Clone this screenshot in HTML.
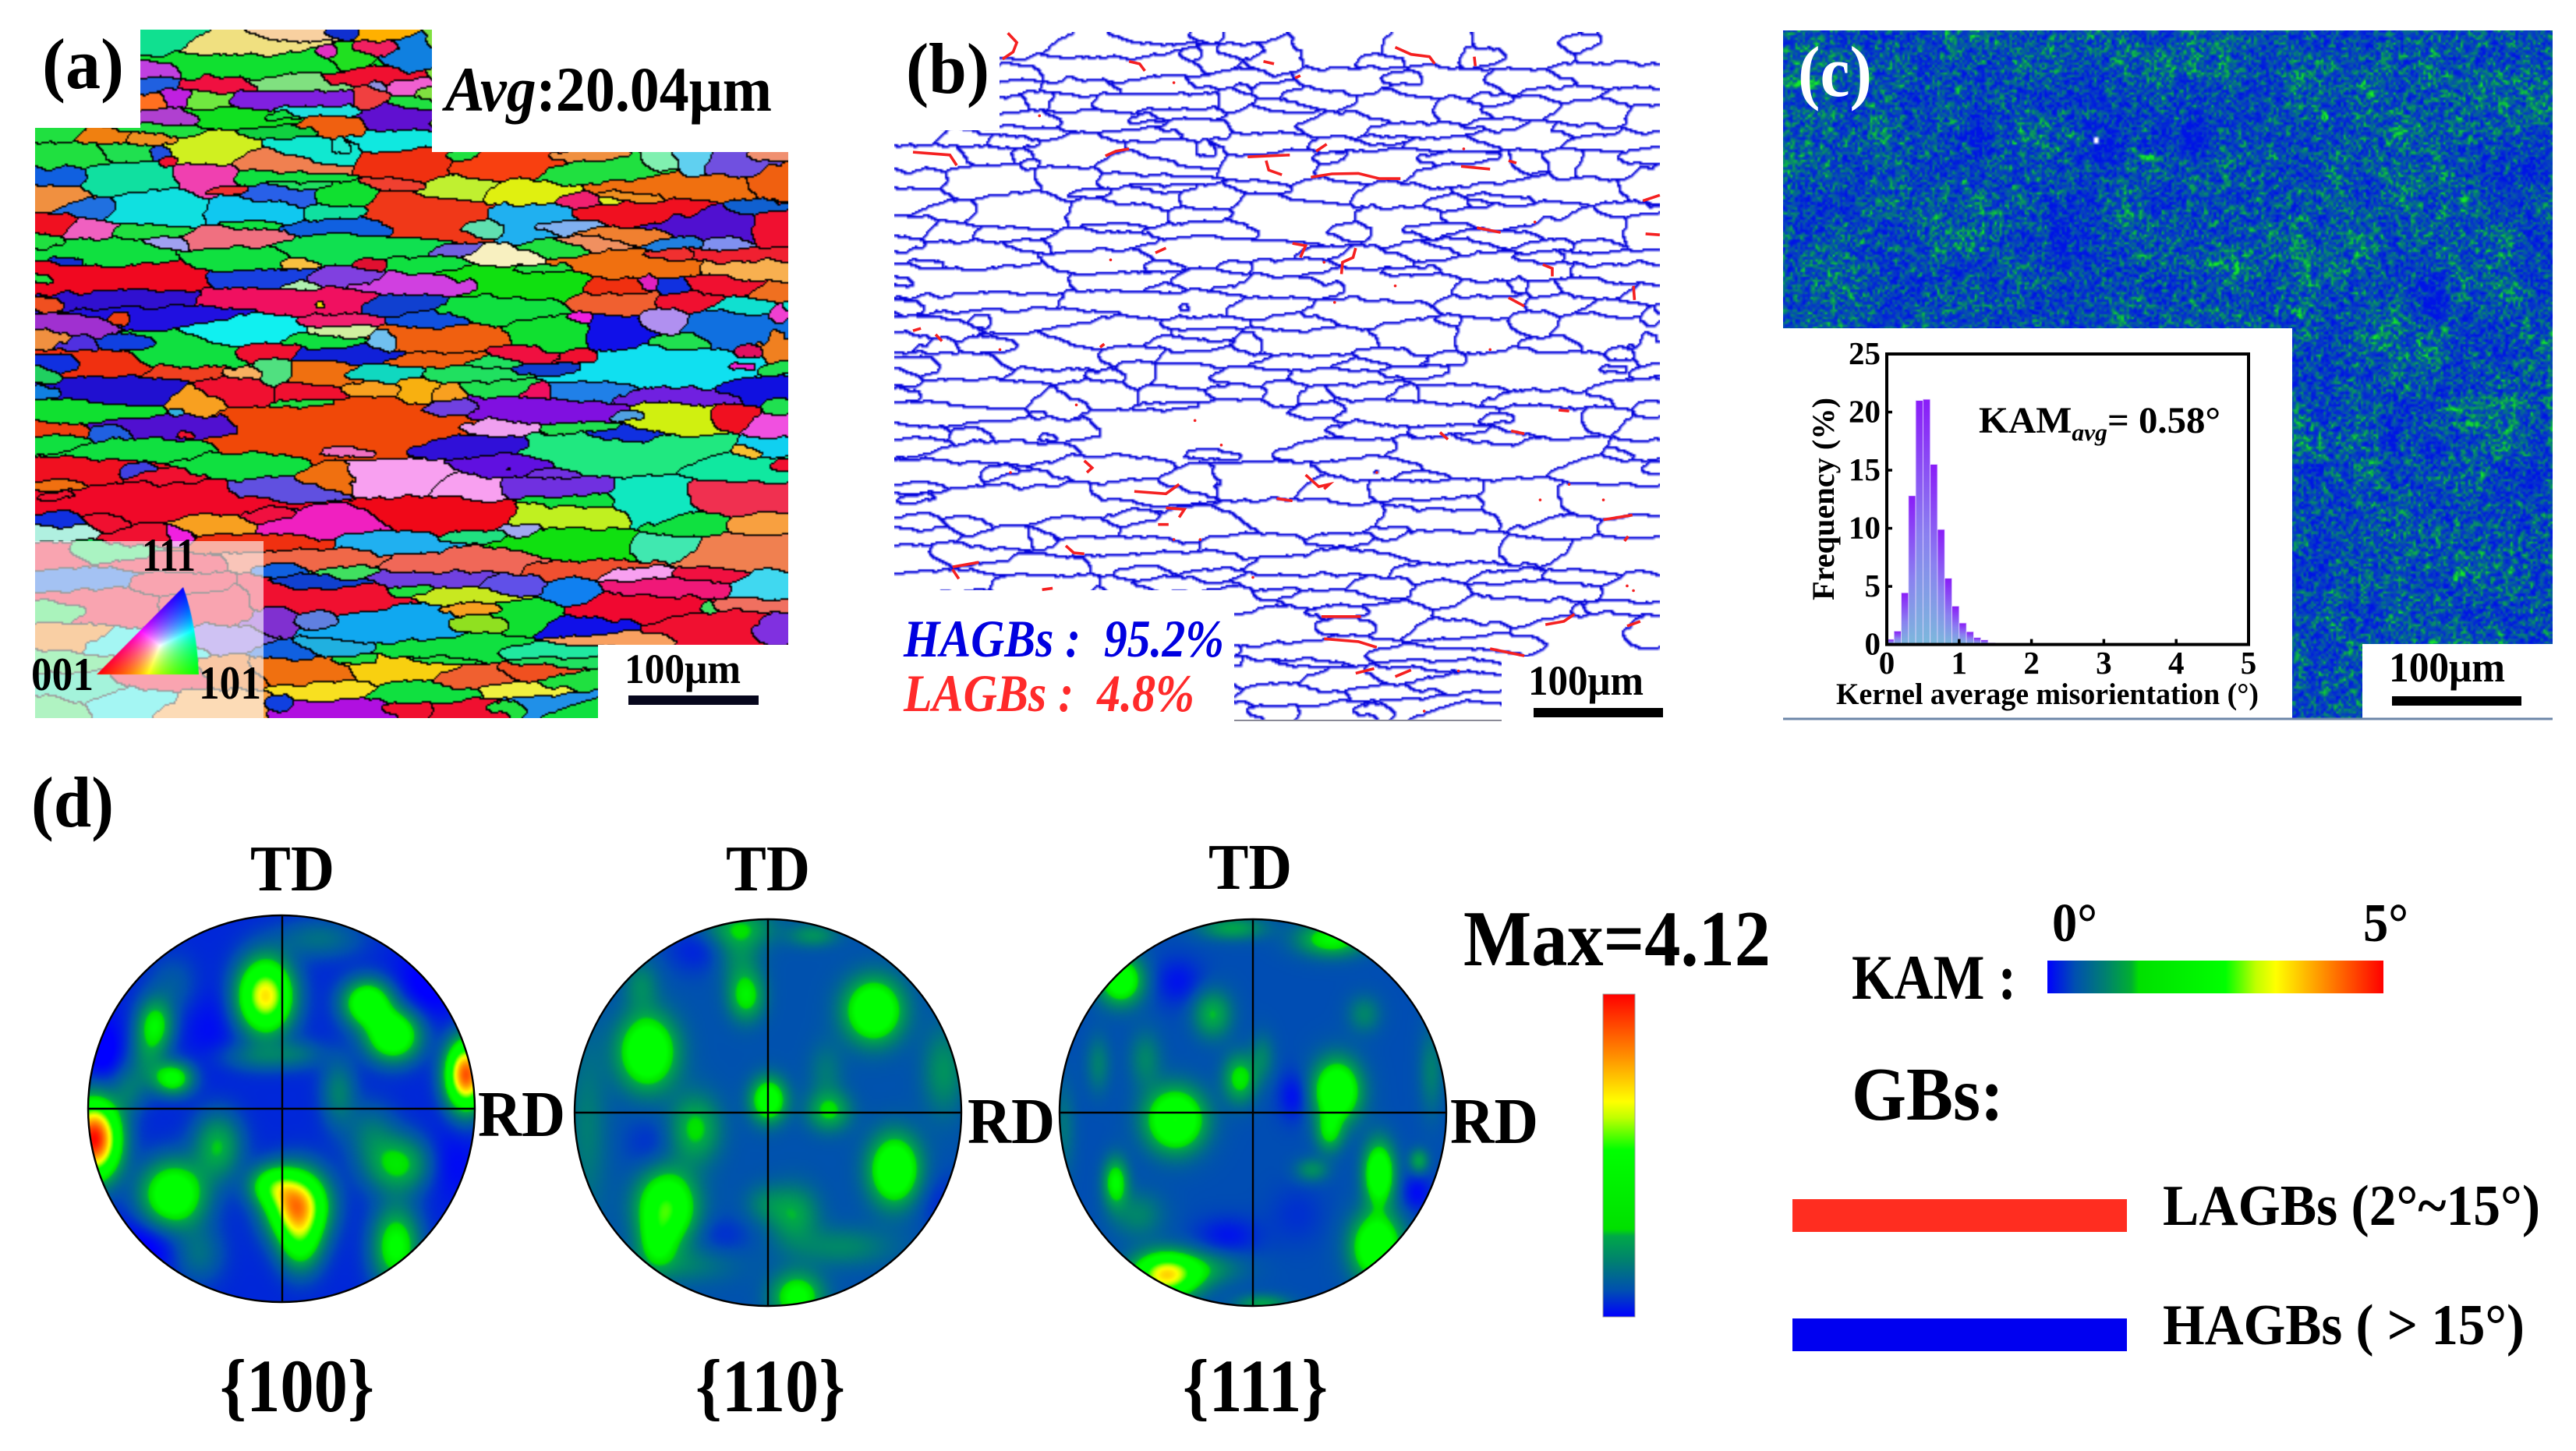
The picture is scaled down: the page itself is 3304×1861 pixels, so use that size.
<!DOCTYPE html>
<html lang="en">
<head>
<meta charset="utf-8">
<title>EBSD characterisation figure</title>
<style>
html,body{margin:0;padding:0;background:#fff}
#page{position:relative;width:3304px;height:1861px;overflow:hidden;background:#fff}
canvas{position:absolute;display:block}
#overlay{position:absolute;left:0;top:0}
text{font-family:"Liberation Serif","DejaVu Serif",serif;font-weight:bold;fill:#000}
</style>
</head>
<body>
<div id="page">
<canvas id="map-a" width="483" height="442" style="left:45px;top:38px;width:966px;height:883px;clip-path:polygon(135px 0,509px 0,509px 157px,966px 157px,966px 789px,722px 789px,722px 883px,0 883px,0 126px,135px 126px)"></canvas>
<canvas id="map-b" width="483" height="442" style="left:1147px;top:41px;width:982px;height:883px;clip-path:polygon(135px 0,982px 0,982px 801px,779px 801px,779px 883px,436px 883px,436px 716px,0 716px,0 126px,135px 126px)"></canvas>
<canvas id="map-c" width="494" height="441" style="left:2287px;top:39px;width:987px;height:882px"></canvas>
<canvas id="pole-100" width="248" height="248" style="left:113px;top:1174px;width:496px;height:496px;border-radius:50%"></canvas>
<canvas id="pole-110" width="248" height="248" style="left:737px;top:1179px;width:496px;height:496px;border-radius:50%"></canvas>
<canvas id="pole-111" width="248" height="248" style="left:1359px;top:1179px;width:496px;height:496px;border-radius:50%"></canvas>

<svg id="overlay" width="3304" height="1861" viewBox="0 0 3304 1861" xmlns="http://www.w3.org/2000/svg">
<defs>
<linearGradient id="bar-fill" x1="0" y1="0" x2="0" y2="1"><stop offset="0" stop-color="#8a1cf8"/><stop offset="0.55" stop-color="#8a80f0"/><stop offset="1" stop-color="#7cb8dc"/></linearGradient>
<linearGradient id="jet-v" x1="0" y1="1" x2="0" y2="0"><stop offset="0" stop-color="#0000ff"/><stop offset=".083" stop-color="#0050b0"/><stop offset=".172" stop-color="#008070"/><stop offset=".25" stop-color="#00a848"/><stop offset=".272" stop-color="#00e000"/><stop offset=".517" stop-color="#00ff00"/><stop offset=".617" stop-color="#c0ff00"/><stop offset=".667" stop-color="#ffff00"/><stop offset=".806" stop-color="#ff9000"/><stop offset="1" stop-color="#ff0000"/></linearGradient>
<linearGradient id="jet-h" x1="0" y1="0" x2="1" y2="0"><stop offset="0" stop-color="#0000ff"/><stop offset=".083" stop-color="#0050b0"/><stop offset=".172" stop-color="#008070"/><stop offset=".25" stop-color="#00b030"/><stop offset=".272" stop-color="#00e000"/><stop offset=".53" stop-color="#00ff00"/><stop offset=".62" stop-color="#c0ff00"/><stop offset=".68" stop-color="#ffff00"/><stop offset=".82" stop-color="#ff9000"/><stop offset="1" stop-color="#ff0000"/></linearGradient>
</defs>

<!-- panel a -->
<rect x="45" y="694" width="293" height="227" fill="#fff" fill-opacity=".62"/>
<text x="54" y="113" font-size="92" textLength="105" lengthAdjust="spacingAndGlyphs">(a)</text>
<text x="571" y="142" font-size="82" textLength="419" lengthAdjust="spacingAndGlyphs"><tspan font-style="italic">Avg</tspan>:20.04μm</text>
<text x="182" y="732" font-size="60" textLength="69" lengthAdjust="spacingAndGlyphs">111</text>
<text x="40" y="885" font-size="60" textLength="80" lengthAdjust="spacingAndGlyphs">001</text>
<text x="255" y="896" font-size="60" textLength="80" lengthAdjust="spacingAndGlyphs">101</text>
<text x="801" y="876" font-size="54" textLength="149" lengthAdjust="spacingAndGlyphs">100μm</text>
<rect x="806" y="892" width="167" height="12" fill="#06061c"/>

<!-- panel b -->
<g id="lagb-layer" fill="none" stroke="#f52020" stroke-width="3.6"></g>
<line x1="1583" y1="924" x2="1926" y2="924" stroke="#8a8a96" stroke-width="2"/>
<text x="1162" y="119" font-size="92" textLength="107" lengthAdjust="spacingAndGlyphs">(b)</text>
<text x="1159" y="842" font-size="68" font-style="italic" style="fill:#0000e0" textLength="411" lengthAdjust="spacingAndGlyphs">HAGBs :&#160;&#160;95.2%</text>
<text x="1159" y="912" font-size="68" font-style="italic" style="fill:#ff2a2a" textLength="373" lengthAdjust="spacingAndGlyphs">LAGBs :&#160;&#160;4.8%</text>
<text x="1960" y="891" font-size="54" textLength="148" lengthAdjust="spacingAndGlyphs">100μm</text>
<rect x="1967" y="908" width="166" height="12" fill="#000"/>

<!-- panel c -->
<rect x="2287" y="421" width="653" height="500" fill="#fff"/>
<rect x="3030" y="826" width="244" height="95" fill="#fff"/>
<line x1="2287" y1="922" x2="3274" y2="922" stroke="#6c86a8" stroke-width="3"/>
<text x="2306" y="123" font-size="92" style="fill:#fff" textLength="95" lengthAdjust="spacingAndGlyphs">(c)</text>
<text x="3064" y="874" font-size="54" textLength="149" lengthAdjust="spacingAndGlyphs">100μm</text>
<rect x="3068" y="893" width="166" height="12" fill="#000"/>

<g id="kam-histogram"></g>
<rect x="2420" y="454" width="464" height="372.6" fill="none" stroke="#000" stroke-width="4"/>
<text x="2538" y="555" font-size="48" textLength="310" lengthAdjust="spacingAndGlyphs">KAM<tspan font-size="31" font-style="italic" dy="10">avg</tspan><tspan dy="-10">= 0.58°</tspan></text>
<text x="2355" y="903" font-size="39" textLength="542" lengthAdjust="spacingAndGlyphs">Kernel average misorientation (°)</text>
<text transform="translate(2352 770) rotate(-90)" font-size="40" textLength="260" lengthAdjust="spacingAndGlyphs">Frequency (%)</text>

<!-- panel d -->
<text x="40" y="1060" font-size="92" textLength="106" lengthAdjust="spacingAndGlyphs">(d)</text>
<g id="pole-frames" fill="none" stroke="#000" stroke-width="2.4">
  <circle cx="361" cy="1422" r="248"/>
  <line x1="113" y1="1422" x2="609" y2="1422"/>
  <line x1="362" y1="1174" x2="362" y2="1670"/>
  <circle cx="985" cy="1427" r="248"/>
  <line x1="737" y1="1427" x2="1233" y2="1427"/>
  <line x1="985" y1="1179" x2="985" y2="1675"/>
  <circle cx="1607" cy="1427" r="248"/>
  <line x1="1359" y1="1427" x2="1855" y2="1427"/>
  <line x1="1607" y1="1179" x2="1607" y2="1675"/>
</g>
<text x="321" y="1142" font-size="84" textLength="108" lengthAdjust="spacingAndGlyphs">TD</text>
<text x="931" y="1142" font-size="84" textLength="108" lengthAdjust="spacingAndGlyphs">TD</text>
<text x="1550" y="1140" font-size="84" textLength="107" lengthAdjust="spacingAndGlyphs">TD</text>
<text x="613" y="1457" font-size="84" textLength="112" lengthAdjust="spacingAndGlyphs">RD</text>
<text x="1241" y="1466" font-size="84" textLength="112" lengthAdjust="spacingAndGlyphs">RD</text>
<text x="1860" y="1466" font-size="84" textLength="113" lengthAdjust="spacingAndGlyphs">RD</text>
<text x="282" y="1810" font-size="96" textLength="198" lengthAdjust="spacingAndGlyphs">{100}</text>
<text x="892" y="1810" font-size="96" textLength="192" lengthAdjust="spacingAndGlyphs">{110}</text>
<text x="1517" y="1810" font-size="96" textLength="186" lengthAdjust="spacingAndGlyphs">{111}</text>
<text x="1877" y="1238" font-size="102" textLength="394" lengthAdjust="spacingAndGlyphs">Max=4.12</text>
<rect x="2056" y="1275" width="41" height="414" fill="url(#jet-v)" stroke="#999" stroke-width="1"/>

<!-- legend -->
<text x="2375" y="1281" font-size="82" textLength="211" lengthAdjust="spacingAndGlyphs">KAM :</text>
<rect x="2626" y="1232" width="431" height="42" fill="url(#jet-h)"/>
<text x="2632" y="1207" font-size="70" textLength="58" lengthAdjust="spacingAndGlyphs">0°</text>
<text x="3031" y="1207" font-size="70" textLength="58" lengthAdjust="spacingAndGlyphs">5°</text>
<text x="2375" y="1436" font-size="98" textLength="195" lengthAdjust="spacingAndGlyphs">GBs:</text>
<rect x="2299" y="1538" width="429" height="42" fill="#ff2d20"/>
<text x="2774" y="1571" font-size="74" textLength="484" lengthAdjust="spacingAndGlyphs">LAGBs (2°~15°)</text>
<rect x="2299" y="1691" width="429" height="42" fill="#0000f0"/>
<text x="2774" y="1724" font-size="74" textLength="464" lengthAdjust="spacingAndGlyphs">HAGBs ( &gt; 15°)</text>
</svg>
<canvas id="ipf-triangle" width="140" height="120" style="left:120px;top:750px;width:140px;height:120px"></canvas>
</div>

<script>
/* KAM histogram data: bin start is index * kamBinWidth */
const kamBinWidth = 0.1;
const kamFrequency = [0.45, 1.15, 4.45, 12.8, 21.0, 21.1, 15.5, 9.9, 5.7, 3.3, 1.85, 1.1, 0.6, 0.4, 0.15];
const histXTicks = [0, 1, 2, 3, 4, 5];
const histYTicks = [0, 5, 10, 15, 20, 25];

/* Pole figure density blobs: centre x, centre y, spread x, spread y, level */
const pole100Blobs = [
 [345,430,30,72,.66],[505,450,27,45,.42],[545,540,30,50,.45],[172,510,20,52,.27],[200,660,22,32,.33],[160,600,20,60,.12],
 [130,690,20,50,.1],[660,650,22,66,.85],[76,830,28,76,.95],[270,850,27,66,.22],[200,985,36,66,.43],[395,1015,32,66,.74],
 [355,960,26,40,.3],[400,1120,24,60,.28],[555,900,38,58,.26],[550,1130,26,78,.33],[460,700,20,70,.13],[240,1150,28,58,.1],
 [340,600,48,30,.1],[400,590,28,30,.06],[430,270,48,40,.1],[510,810,28,60,.1],[200,400,28,60,.06],
 [90,590,24,80,-.06],[600,400,40,80,-.05],[160,1120,40,60,-.06],[620,900,40,70,-.05],[260,520,34,80,-.03]
];
const pole110Blobs = [
 [945,585,32,72,.42],[1300,470,32,62,.42],[975,1020,32,72,.45],[960,1120,20,50,.2],[1333,915,28,68,.42],[1135,720,20,44,.35],
 [1020,800,28,68,.2],[1230,750,24,40,.2],[1100,430,20,48,.23],[1090,240,38,38,.16],[1090,320,24,60,.1],[1180,1270,28,48,.3],
 [1175,1040,28,58,.16],[1130,1010,24,40,.08],[935,400,20,50,.1],[1410,640,24,88,.12],[1205,260,28,24,.12],[1250,1130,58,40,.1],
 [850,800,24,190,.08],[1000,1180,58,40,.08],[1225,640,20,58,.07],[1020,300,34,50,-.05],[950,850,30,60,-.04],[1060,1100,34,40,-.04],[1400,1000,30,60,-.04]
];
const pole111Blobs = [
 [215,385,32,48,.36],[650,695,34,62,.42],[325,775,42,62,.44],[455,660,24,48,.23],[400,480,28,48,.18],[265,605,24,58,.1],
 [705,480,24,38,.1],[635,810,20,40,.2],[735,925,22,62,.4],[600,915,24,24,.12],[815,890,14,24,.16],[205,950,18,48,.27],
 [250,1040,38,48,.1],[305,1210,46,44,.6],[730,1130,36,66,.42],[640,270,48,34,.27],[440,240,48,24,.16],[170,620,18,58,.09],
 [100,800,18,96,.07],[380,1190,58,34,.12],[500,1290,38,20,.16],[840,640,18,88,.09],[500,600,18,48,.09],
 [330,390,38,50,-.06],[430,1100,48,40,-.06],[565,710,24,50,-.07],[810,980,24,40,-.07],[570,1040,40,60,-.03]
];
const colorStops = [[0,0,0,255],[.083,0,80,176],[.172,0,128,112],[.25,0,168,72],[.272,0,224,0],[.35,0,255,0],[.517,0,255,0],[.617,192,255,0],[.667,255,255,0],[.806,255,144,0],[1,255,0,0]];

/* Grains: centre x, centre y, half width, half height, colour (zoom-view units) */
const grainSource = `
300 85 50 22 10e090|460 100 100 18 f0e080|570 72 60 10 f8d0a0|720 70 40 10 ffb000|650 70 30 8 1030d0|620 115 18 12 e030c0|720 105 35 12 f02060|780 115 40 25 1080e0
500 135 150 28 10e030|660 125 40 20 20e020|300 150 35 15 c040e0|300 180 35 15 2060e0|420 180 60 15 f01040|555 175 85 18 80e080|700 165 90 15 f01030|770 178 40 15 f060d0|715 180 15 10 9090e0
335 205 35 18 c020e0|295 215 30 15 ff7020|400 210 35 20 70e840|540 210 100 15 8020e0|700 205 25 20 f04040|780 218 40 10 20e040|600 235 70 12 20e0e0|340 250 50 14 b040d0|450 250 100 20 10e020
750 250 60 28 6010d0|530 245 30 10 10e040|620 265 55 22 f06010|330 275 60 10 20e040|540 280 80 12 10d040|750 295 60 20 10e8e0|640 310 20 20 20e8d0
110 290 40 12 20e040|200 295 50 12 f08010|270 295 50 10 f09020|400 315 70 35 d0f020|590 320 70 25 10e8d0|130 330 90 25 20e040|230 325 60 20 20e050|300 325 20 12 2050e0|315 340 14 10 f01030
120 375 50 22 1060e0|250 375 80 30 10e0a0|390 375 60 30 f040b0|530 340 90 22 f08050|520 378 90 12 10e040|780 345 70 25 f03010|970 345 100 22 f84010|1140 360 100 20 20e040|1250 345 25 15 80f0b0|1320 350 30 20 60d0f0|1400 350 60 20 7050e0|1460 330 35 10 f09070|1100 335 60 10 f09040|880 330 30 10 20e040
1470 385 40 30 f06010|1300 395 120 22 f07010|1200 415 50 10 f09020|100 415 60 22 f09040|860 405 70 20 c0f030|990 413 75 20 e0f010|660 415 50 22 10e030|520 415 70 25 2860e8|430 400 40 10 f03030|560 395 60 10 20e060|740 390 50 10 f04030
800 450 120 40 f03818|290 440 80 30 10e0e0|490 440 70 30 10c8f0|170 440 50 20 2070e0|640 450 60 15 10e0a0|1000 460 70 30 20b0f0|1100 425 50 12 f02070|1220 450 100 22 f01020|1340 480 100 30 5010d0|1465 470 32 40 f01030|1440 440 50 15 1060d0|1160 425 20 10 e0f020
180 485 35 15 f060c0|100 470 40 15 f01020|80 510 30 12 20e040|440 505 90 18 f07080|660 480 100 15 1060e0|280 490 60 12 20e040|480 475 40 12 10e040|330 515 40 12 a0a0f0|920 480 40 15 60e0b0|1070 480 60 12 80b0f0|1210 500 90 14 f08030|1280 515 60 12 2080e0|1370 515 40 15 8090f0
680 525 130 22 10e050|1130 515 50 15 f09060|1060 530 50 15 20e040|960 545 70 15 f8f0c0|860 530 40 12 7060e0|200 540 90 25 10e040|460 550 80 25 10e040|130 550 30 10 1030d0|560 555 25 10 f8c040|700 558 25 10 e01030|1270 540 60 10 f03030|1400 540 100 12 f02030|1180 560 110 25 f07010|1430 570 70 20 f8b050|1030 570 60 10 20e040|800 555 70 14 10e040
210 590 170 30 f00820|480 590 100 20 1840e0|640 590 50 15 8040e0|565 605 40 8 b0f0b0|810 605 110 15 d040e0|1000 600 110 35 10e010|1160 610 60 20 f03010|1230 595 20 15 e020c0|1280 605 20 15 1030e0|1470 620 30 20 f07020|1370 600 70 14 f01030|90 590 30 12 20e040
260 630 140 18 3010d0|520 635 170 22 f01060|770 640 70 20 1040d0|610 642 15 12 f0e000|950 650 100 25 10e040|1170 635 80 22 f06030|1290 640 50 15 f01030|1420 650 60 14 10e0d0|1480 665 15 20 f040d0|90 640 25 10 f05020
130 690 60 15 a030d0|340 665 120 20 2010e0|230 672 20 12 f04010|470 700 90 30 10f0f0|640 680 60 12 f02070|820 680 60 14 1050e0|1100 675 25 12 f020e0|1260 680 40 20 b090f0|1400 700 80 35 1070e0|1170 705 60 30 1010e8|1050 710 70 35 10e030|90 710 25 20 f09040|640 698 50 12 d0f0a0|850 715 90 28 f06010|150 730 30 12 5030e0|260 730 50 15 1040e0|340 745 100 30 10e040|600 720 60 15 10e040|730 725 18 18 70c0f0|1300 725 60 15 20e050|1470 730 25 35 f08020
130 770 40 15 1030e0|200 770 80 25 f03010|500 745 60 15 f01030|650 750 100 15 1020d8|840 760 80 15 f06010|1000 750 60 15 f01040|930 770 50 12 20e060|1100 755 40 15 f01030|1270 775 170 35 10e0f0|1420 740 20 14 e01060|1400 775 30 10 f020d0|1470 780 30 12 20e050
520 785 25 25 50e080|610 790 55 30 f07010|460 790 40 10 f8b060|350 790 80 15 f04020|730 790 70 12 10d8c0|90 795 30 12 20d060|900 790 70 20 20e060|1050 780 60 10 1040d0
240 825 130 25 2010d0|90 830 30 12 1080e0|440 825 70 30 f01030|370 845 50 30 f8a020|590 835 60 20 f01030|705 825 50 12 f8a020|785 825 30 20 f8b010|850 830 30 15 f8a020|950 820 60 15 20e050|1020 830 30 15 f01060|1120 830 70 18 2080e8|1280 840 110 14 7020e0|1440 825 55 25 1010e0|1475 860 25 15 20e050
170 870 110 18 10e030|340 870 15 10 30b0e0|650 910 220 50 f04808|1030 870 120 22 8010e0|1280 885 75 32 d0f010|1390 880 50 20 f01020|1460 900 35 30 f050e0|850 865 50 12 7040e0|1190 880 30 10 50a0e0|580 855 60 8 20e040
340 905 130 22 5010d0|210 915 40 15 2060e0|100 910 60 12 f04010|350 915 15 12 f01030|950 905 75 14 f0a0f0|1090 905 70 10 20e050|1190 920 70 15 1030e0|110 940 60 14 10e040
260 950 120 18 10e040|890 945 110 22 3010d8|660 955 60 12 f070c0|1170 960 170 38 20e880|1420 955 30 12 f8c030|1450 945 40 20 10d0f0|1480 985 30 12 f01030
170 1000 90 22 f01020|250 1000 35 15 4040e0|470 985 90 22 10e040|960 985 90 25 6010e0|630 1010 50 25 f07010|760 1010 90 32 f8a0f0|1040 1000 50 12 7030e0|1400 990 90 25 10e8a0|965 990 12 12 f01070
530 1040 85 22 6050e0|300 1010 60 12 f01030|1050 1030 110 20 7030e0|900 1030 70 25 f8a0f0|1240 1060 70 45 10e8c0|1400 1050 95 28 f03050|120 1025 40 12 f07010|120 1050 40 8 f01030
310 1065 220 32 f00828|830 1090 140 30 f00818|1080 1095 110 28 c0f020|620 1105 110 28 f020c0|400 1105 60 20 f8a020|510 1090 50 15 f01040|1100 1060 80 14 10e040|1300 1110 60 20 10e040|1450 1110 50 15 f8a040|110 1100 45 20 1030e0|200 1100 30 20 f01030
110 1125 60 14 b0f0e0|280 1130 60 15 f01030|340 1130 20 15 f020e0|730 1150 90 18 20b0f0|520 1150 100 15 f03010|1090 1150 110 30 10e010|1000 1125 40 18 a0a8f0|1260 1155 60 20 40e8b0|1400 1170 75 28 f08050|900 1135 50 10 20e080
600 1180 100 18 f06848|900 1190 120 20 f06858|1100 1205 100 15 f05030|1200 1215 60 12 f8a0f0|1350 1215 50 12 f01040|660 1215 40 12 40e060|1440 1240 40 25 40d8f0|1260 1245 90 15 f01878|540 1200 30 12 1060e0
830 1225 100 14 7040e0|620 1235 60 10 1040d0|1080 1255 50 20 1080f0|970 1240 40 18 6050e8|890 1260 90 12 c8e820|780 1250 30 10 20e040
620 1270 120 25 f01030|1200 1290 110 25 f00830|1340 1285 15 10 40e060|1420 1280 50 10 f07060|530 1310 35 20 8030d0|760 1325 110 35 10a8f0|600 1310 40 15 6080e0|900 1290 50 10 f8a020|900 1320 60 15 90e020|1000 1300 60 30 10e030|1120 1325 90 22 1010e8|1180 1350 100 15 f8a060|1340 1330 100 28 f01030|1460 1330 40 20 8030e0
860 1370 110 25 10e040|1040 1380 90 15 20e8a0|550 1380 40 15 1060e0|630 1370 70 12 20b0e0
570 1420 90 18 f07010|750 1415 110 18 f8d010|900 1430 50 20 f06030|1010 1420 50 12 f05020|1060 1400 60 10 20e060|680 1400 40 10 20e040|840 1400 60 10 20e040|1080 1440 40 10 20e040
640 1500 80 15 b010e0|620 1465 60 14 f8e020|800 1470 80 14 10e040|980 1465 50 12 f0f040|1040 1490 60 12 2090e8|780 1500 50 10 f01030|880 1500 60 12 f01030|530 1490 20 10 1040e0|1100 1500 40 12 10e040|960 1500 40 8 20e040
100 1180 60 20 f01030|200 1170 60 15 20e060|140 1225 60 20 1060e0|300 1190 70 12 f01030|400 1280 70 25 f01030|200 1280 80 25 f01030|340 1240 60 15 f01030|120 1290 60 15 20e050|130 1350 60 20 f08010|250 1360 80 18 10e8e0|400 1350 60 15 8060e0|110 1400 50 15 30e060|160 1460 80 20 10e0a0|300 1440 60 15 f01030|450 1430 40 20 f07010|250 1480 60 20 10e8e0|400 1490 70 20 f8a040|100 1490 40 15 30e060
900 100 70 25 80e040|1060 100 80 20 80e040|1250 100 80 25 80e040|1420 100 70 20 80e040|920 160 80 15 80e040|1100 170 70 20 80e040|1250 165 60 15 80e040|1400 150 70 20 80e040|1020 225 50 25 80e040|1130 225 40 20 80e040|1230 220 60 15 80e040|1370 230 50 18 80e040|1470 250 30 20 80e040|900 260 60 15 80e040|1060 270 90 12 80e040|1240 280 80 15 80e040|1420 290 70 12 80e040|920 300 60 10 80e040|1100 300 50 10 80e040
960 120 40 12 80e040|1170 110 40 14 80e040|1340 90 40 14 80e040|1010 160 40 10 80e040|1180 205 40 10 80e040|1320 190 50 10 80e040|1450 200 40 12 80e040|850 200 40 12 80e040|970 290 40 8 80e040|1180 260 40 10 80e040|1340 270 40 8 80e040`;

/* LAGB polylines and specks, zoom-view units */
const lagbPaths = [
 [285,70,302,90,295,110,275,125],[515,130,535,135,545,150],[770,130,790,135],[1020,100,1050,115,1085,120,1095,135],[1170,120,1172,140],[840,160,830,165],
 [105,322,175,328,188,350],[470,330,490,320,515,315],[740,332,820,328],[775,340,780,360,805,370],[870,320,890,305],[860,375,900,368,950,367,990,378,1030,378],
 [1145,352,1200,358],[1235,340,1250,345],[1490,425,1522,413],[1175,482,1220,492],[1495,495,1522,497],[825,515,850,520,840,545],[945,525,940,545,920,555,918,580],
 [565,535,585,525],[1300,560,1318,568,1318,585],[1235,630,1265,648],[1472,605,1474,635],[105,700,120,695],[148,708,160,722],[460,735,468,728],[1105,915,1120,930],
 [1240,912,1265,918],[1330,868,1350,870],[430,975,445,990,435,1000],[850,1005,875,1030,895,1025,885,1035],[525,1040,585,1045,610,1025],[795,1055,825,1060],
 [585,1075,620,1078,610,1095],[570,1110,590,1110],[1415,1100,1470,1090],[395,1155,410,1170,430,1172],[180,1200,230,1190],[180,1205,192,1225],[880,1305,955,1305],
 [1305,1322,1340,1315,1360,1300],[885,1352,950,1358,985,1370],[1200,1373,1265,1388],[945,1425,980,1415],[1020,1432,1050,1418],[1460,1325,1485,1315],[350,1248,370,1245],[1455,1145,1462,1135]
];
const lagbSpecks = [[600,175],[345,245],[480,550],[885,555],[905,640],[290,1000],[600,1142],[650,1142],[1295,1058],[1415,1058],[1472,1250],[1460,1240],[1075,1505],[750,1222],[1200,740],[415,857],[985,1000],[640,890],[690,942],[1285,470],[1020,605],[1150,315],[270,740],[1140,1420],[1350,1025]];

/* shared noise helpers (texture only) */
function hash2(i, j) {
  let n = Math.imul(i, 374761393) + Math.imul(j, 668265263) | 0;
  n = Math.imul(n ^ (n >>> 13), 1274126177);
  return ((n ^ (n >>> 16)) >>> 0) / 4294967296;
}
function vnoise(x, y) {
  const i = Math.floor(x), j = Math.floor(y), fx = x - i, fy = y - j;
  const sx = fx * fx * (3 - 2 * fx), sy = fy * fy * (3 - 2 * fy);
  const a = hash2(i, j), b = hash2(i + 1, j), c = hash2(i, j + 1), d = hash2(i + 1, j + 1);
  return a + (b - a) * sx + (c - a) * sy + (a - b - c + d) * sx * sy;
}

/* grain maps */
const grains = grainSource.trim().split(/[|\n]/).map(s => {
  const p = s.trim().split(/\s+/);
  return { x: +p[0], y: +p[1], w: +p[2], h: +p[3],
    r: parseInt(p[4].slice(0, 2), 16), g: parseInt(p[4].slice(2, 4), 16), b: parseInt(p[4].slice(4, 6), 16) };
});
const cols = 483, rows = 442;
const labels = new Int16Array(cols * rows);
for (let r = 0; r < rows; r++) {
  for (let c = 0; c < cols; c++) {
    const jx = (vnoise(c / 3.2, r / 3.2) - .5) * 8 + (vnoise(c / 10, r / 10 + 40) - .5) * 24;
    const jy = (vnoise(c / 3.2 + 70, r / 3.2) - .5) * 5 + (vnoise(c / 10 + 90, r / 10) - .5) * 11;
    const zx = 67 + c * 2 / 0.676 + jx, zy = 62 + r * 2 / 0.606 + jy;
    let best = 1e18, id = 0;
    for (let k = 0; k < grains.length; k++) {
      const g = grains[k], dx = (zx - g.x) / g.w, dy = (zy - g.y) / g.h, d = dx * dx + dy * dy;
      if (d < best) { best = d; id = k; }
    }
    labels[r * cols + c] = id;
  }
}
function isEdge(i, c, r) {
  const v = labels[i];
  return (c + 1 < cols && labels[i + 1] !== v) || (r + 1 < rows && labels[i + cols] !== v);
}
(function drawMaps() {
  const cva = document.getElementById('map-a'), cvb = document.getElementById('map-b');
  const ca = cva.getContext('2d'), cb = cvb.getContext('2d');
  const ia = ca.createImageData(cols, rows), ib = cb.createImageData(cols, rows);
  for (let r = 0; r < rows; r++) for (let c = 0; c < cols; c++) {
    const i = r * cols + c, p = i * 4, g = grains[labels[i]], e = isEdge(i, c, r);
    ia.data[p] = e ? 0 : g.r; ia.data[p + 1] = e ? 0 : g.g; ia.data[p + 2] = e ? 0 : g.b; ia.data[p + 3] = 255;
    ib.data[p] = e ? 6 : 255; ib.data[p + 1] = e ? 6 : 255; ib.data[p + 2] = e ? 220 : 255; ib.data[p + 3] = 255;
  }
  ca.putImageData(ia, 0, 0); cb.putImageData(ib, 0, 0);
  /* thicken the boundary lines in panel (b) */
  cb.globalCompositeOperation = 'darken';
  cb.drawImage(cvb, .5, 0);
  cb.drawImage(cvb, 0, .5);
  cb.globalCompositeOperation = 'source-over';
})();

/* KAM noise map */
const kamHoles = [[2695,183,24,30],[2642,300,18,34],[2812,173,14,20],[3116,370,20,26],[2535,163,10,24],[2450,127,14,12],[3246,217,14,14],[3066,558,14,18],[2970,600,10,12]];
const kamHotSpots = [[2310,107,24,4],[2840,337,12,3],[2868,342,5,10],[2757,202,10,5],[2982,148,3,9],[3146,523,10,3],[2950,245,5,5],[2950,400,6,6]];
(function drawKam() {
  const cv = document.getElementById('map-c'), ctx = cv.getContext('2d');
  const W = cv.width, H = cv.height, im = ctx.createImageData(W, H);
  const ramp = [[0,0,20,230],[.3,6,56,200],[.45,6,80,175],[.6,4,112,135],[.75,10,150,95],[.9,14,200,60],[1,20,235,40]];
  for (let r = 0; r < H; r++) for (let c = 0; c < W; c++) {
    const px = 2287 + c * 2, py = 39 + r * 2;
    let t = .56 * vnoise(c / 1.6, r / 1.6) + .26 * vnoise(c / 4 + 11, r / 4) + .18 * vnoise(c / 22, r / 22 + 7);
    t = (t - .5) / .68 + .43;
    for (const h of kamHoles) { const dx = (px - h[0]) / h[2], dy = (py - h[1]) / h[3]; t -= .4 * Math.exp(-dx * dx - dy * dy); }
    for (const h of kamHotSpots) { const dx = (px - h[0]) / h[2], dy = (py - h[1]) / h[3]; t += .6 * Math.exp(-dx * dx - dy * dy); }
    t = Math.max(0, Math.min(1, t));
    let k = 0; while (k < ramp.length - 2 && t > ramp[k + 1][0]) k++;
    const a = ramp[k], b = ramp[k + 1], f = (t - a[0]) / (b[0] - a[0]), p = (r * W + c) * 4;
    im.data[p] = a[1] + (b[1] - a[1]) * f; im.data[p + 1] = a[2] + (b[2] - a[2]) * f; im.data[p + 2] = a[3] + (b[3] - a[3]) * f; im.data[p + 3] = 255;
  }
  ctx.putImageData(im, 0, 0);
  ctx.fillStyle = '#fff'; ctx.fillRect((2686 - 2287) / 2, (176 - 39) / 2, 3, 4);
})();

/* Pole figures */
const blobSpreadFactor = 0.95;
function poleColor(t) {
  t = Math.max(0, Math.min(1, t));
  let k = 0; while (k < colorStops.length - 2 && t > colorStops[k + 1][0]) k++;
  const a = colorStops[k], b = colorStops[k + 1], f = (t - a[0]) / (b[0] - a[0]);
  return [a[1] + (b[1] - a[1]) * f, a[2] + (b[2] - a[2]) * f, a[3] + (b[3] - a[3]) * f];
}
function drawPole(id, blobs, base, cx, cy, rx, ry) {
  const cv = document.getElementById(id), ctx = cv.getContext('2d'), n = cv.width, im = ctx.createImageData(n, n);
  const list = blobs.map(b => ({ u: (b[0] - cx) / rx, v: (b[1] - cy) / ry, su: b[2] * blobSpreadFactor / rx, sv: b[3] * blobSpreadFactor / ry, a: b[4] }));
  for (let r = 0; r < n; r++) for (let c = 0; c < n; c++) {
    const u = (c + .5) / (n / 2) - 1, v = (r + .5) / (n / 2) - 1;
    let t = base;
    for (const b of list) { const dx = (u - b.u) / b.su, dy = (v - b.v) / b.sv; t += b.a * Math.exp(-.5 * (dx * dx + dy * dy)); }
    const col = poleColor(t), p = (r * n + c) * 4;
    im.data[p] = col[0]; im.data[p + 1] = col[1]; im.data[p + 2] = col[2]; im.data[p + 3] = 255;
  }
  ctx.putImageData(im, 0, 0);
}
drawPole('pole-100', pole100Blobs, .04, 370, 745, 303.5, 540);
drawPole('pole-110', pole110Blobs, .085, 1134, 755, 303.5, 540);
drawPole('pole-111', pole111Blobs, .08, 481, 755, 389, 540);

/* IPF triangle */
(function drawIpf() {
  const cv = document.getElementById('ipf-triangle'), ctx = cv.getContext('2d');
  const off = document.createElement('canvas'); off.width = cv.width; off.height = cv.height;
  const oc = off.getContext('2d'), im = oc.createImageData(cv.width, cv.height);
  const A = [4, 115], B = [135, 115], C = [115, 3];
  const den = (B[1] - C[1]) * (A[0] - C[0]) + (C[0] - B[0]) * (A[1] - C[1]);
  for (let y = 0; y < cv.height; y++) for (let x = 0; x < cv.width; x++) {
    let a = ((B[1] - C[1]) * (x - C[0]) + (C[0] - B[0]) * (y - C[1])) / den;
    let b = ((C[1] - A[1]) * (x - C[0]) + (A[0] - C[0]) * (y - C[1])) / den;
    a = Math.max(0, a); b = Math.max(0, b); const c = Math.max(0, 1 - a - b);
    const m = Math.max(a, b, c), p = (y * cv.width + x) * 4;
    im.data[p] = 255 * Math.pow(a / m, .9); im.data[p + 1] = 255 * Math.pow(b / m, .9); im.data[p + 2] = 255 * Math.pow(c / m, .9); im.data[p + 3] = 255;
  }
  oc.putImageData(im, 0, 0);
  ctx.beginPath(); ctx.moveTo(A[0], A[1]); ctx.lineTo(C[0], C[1]); ctx.quadraticCurveTo(132, 50, B[0], B[1]); ctx.closePath(); ctx.clip();
  ctx.drawImage(off, 0, 0);
})();

/* SVG marks */
const NS = 'http://www.w3.org/2000/svg';
function mapBX(z) { return 1100 + z * 0.676; }
function mapBY(z) { return z * 0.606; }
const lagbLayer = document.getElementById('lagb-layer');
lagbPaths.forEach(seg => {
  const el = document.createElementNS(NS, 'polyline');
  
  
  const pts = [];
  for (let i = 0; i < seg.length; i += 2) pts.push(mapBX(seg[i]) + ',' + mapBY(seg[i + 1]));
  el.setAttribute('points', pts.join(' '));
  lagbLayer.appendChild(el);
});
lagbSpecks.forEach(s => {
  const el = document.createElementNS(NS, 'circle');
  
  
  el.setAttribute('cx', mapBX(s[0]));
  el.setAttribute('cy', mapBY(s[1]));
  el.setAttribute('r', 1.8);
  el.setAttribute('fill', '#f52020');
  el.setAttribute('stroke', 'none');
  lagbLayer.appendChild(el);
});

const histLeft = 2420, histRight = 2884, histTop = 454, histBottom = 826.6;
const xScale = v => histLeft + (v / 5) * (histRight - histLeft);
const yScale = v => histBottom - (v / 25) * (histBottom - histTop);
const hist = document.getElementById('kam-histogram');
kamFrequency.forEach((f, i) => {
  const bar = document.createElementNS(NS, 'rect');
  
  
  bar.setAttribute('x', xScale(i * kamBinWidth));
  bar.setAttribute('y', yScale(f));
  bar.setAttribute('width', xScale(kamBinWidth) - xScale(0));
  bar.setAttribute('height', yScale(0) - yScale(f));
  bar.setAttribute('fill', 'url(#bar-fill)');
  bar.setAttribute('stroke', '#e6d8ff');
  bar.setAttribute('stroke-width', '0.8');
  hist.appendChild(bar);
});
histXTicks.forEach(v => {
  const tick = document.createElementNS(NS, 'line');
  
  
  tick.setAttribute('x1', xScale(v)); tick.setAttribute('x2', xScale(v));
  tick.setAttribute('y1', histBottom); tick.setAttribute('y2', histBottom - 7);
  tick.setAttribute('stroke', '#000'); tick.setAttribute('stroke-width', '3.5');
  hist.appendChild(tick);
  const lab = document.createElementNS(NS, 'text');
  
  
  lab.setAttribute('x', xScale(v)); lab.setAttribute('y', 864);
  lab.setAttribute('text-anchor', 'middle'); lab.setAttribute('font-size', '41');
  lab.textContent = v;
  hist.appendChild(lab);
});
histYTicks.forEach(v => {
  const tick = document.createElementNS(NS, 'line');
  
  
  tick.setAttribute('x1', histLeft); tick.setAttribute('x2', histLeft + 7);
  tick.setAttribute('y1', yScale(v)); tick.setAttribute('y2', yScale(v));
  tick.setAttribute('stroke', '#000'); tick.setAttribute('stroke-width', '3.5');
  hist.appendChild(tick);
  const lab = document.createElementNS(NS, 'text');
  
  
  lab.setAttribute('x', 2412); lab.setAttribute('y', yScale(v) + 13);
  lab.setAttribute('text-anchor', 'end'); lab.setAttribute('font-size', '41');
  lab.textContent = v;
  hist.appendChild(lab);
});
</script>
</body>
</html>
